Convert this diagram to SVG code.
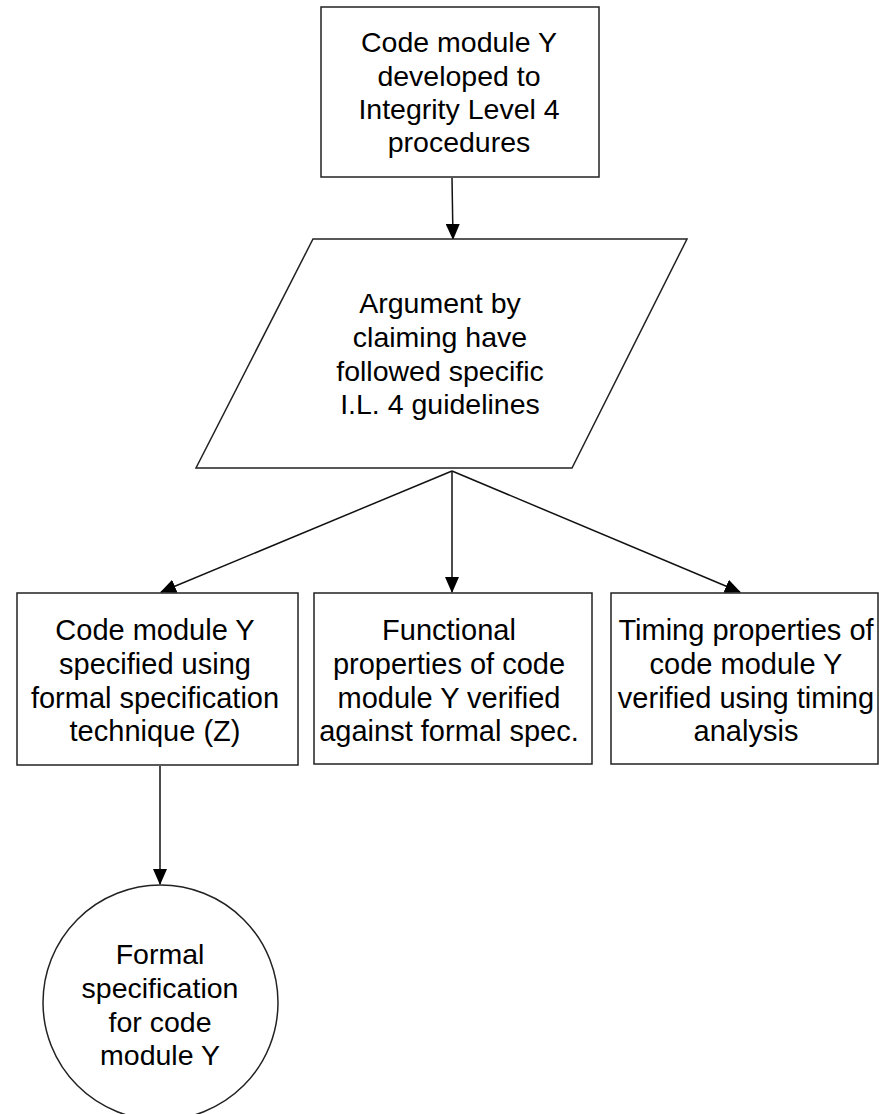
<svg xmlns="http://www.w3.org/2000/svg" width="879" height="1114" viewBox="0 0 879 1114">
  <style>
    .shape { fill: #ffffff; stroke: #222222; stroke-width: 1.5; }
    .label { font-family: "Liberation Sans", Arial, sans-serif; font-size: 28.5px; fill: #000000; text-anchor: middle; }
    .label-lg { font-size: 29px; }
    .conn { stroke: #111111; stroke-width: 1.5; fill: none; marker-end: url(#arrow); }
  </style>
  <defs>
    <marker id="arrow" viewBox="0 0 16 14" refX="15" refY="7" markerWidth="16" markerHeight="14" markerUnits="userSpaceOnUse" orient="auto">
      <path d="M0,0 L16,7 L0,14 Z" fill="#000000"/>
    </marker>
  </defs>
  <rect width="879" height="1114" fill="#ffffff"/>

  <g id="connectors">
    <line class="conn" x1="452" y1="178" x2="453" y2="239"/>
    <line class="conn" x1="452" y1="471" x2="161" y2="592"/>
    <line class="conn" x1="452" y1="471" x2="452" y2="592"/>
    <line class="conn" x1="452" y1="471" x2="740" y2="592"/>
    <line class="conn" x1="160" y1="766" x2="160" y2="884"/>
  </g>

  <g id="node-developed">
    <rect class="shape" x="321" y="7" width="278" height="170"/>
    <text class="label" x="459" y="52">Code module Y</text>
    <text class="label" x="459" y="86">developed to</text>
    <text class="label" x="459" y="119">Integrity Level 4</text>
    <text class="label" x="459" y="152">procedures</text>
  </g>

  <g id="node-argument">
    <polygon class="shape" points="313,239 687,239 572,468 196,468"/>
    <text class="label" x="440" y="313">Argument by</text>
    <text class="label" x="440" y="347">claiming have</text>
    <text class="label" x="440" y="381">followed specific</text>
    <text class="label" x="440" y="414">I.L. 4 guidelines</text>
  </g>

  <g id="node-specified">
    <rect class="shape" x="17" y="593" width="281" height="172"/>
    <text class="label label-lg" x="155" y="640">Code module Y</text>
    <text class="label label-lg" x="155" y="674">specified using</text>
    <text class="label label-lg" x="155" y="708">formal specification</text>
    <text class="label label-lg" x="155" y="741">technique (Z)</text>
  </g>

  <g id="node-functional">
    <rect class="shape" x="314" y="593" width="278" height="171"/>
    <text class="label label-lg" x="449" y="640">Functional</text>
    <text class="label label-lg" x="449" y="674">properties of code</text>
    <text class="label label-lg" x="449" y="708">module Y verified</text>
    <text class="label label-lg" x="449" y="741">against formal spec.</text>
  </g>

  <g id="node-timing">
    <rect class="shape" x="611" y="593" width="267" height="171"/>
    <text class="label label-lg" x="746" y="640">Timing properties of</text>
    <text class="label label-lg" x="746" y="674">code module Y</text>
    <text class="label label-lg" x="746" y="708">verified using timing</text>
    <text class="label label-lg" x="746" y="741">analysis</text>
  </g>

  <g id="node-formal-spec">
    <circle class="shape" cx="160.5" cy="1002.5" r="117.5"/>
    <text class="label" x="160" y="964">Formal</text>
    <text class="label" x="160" y="998">specification</text>
    <text class="label" x="160" y="1032">for code</text>
    <text class="label" x="160" y="1065">module Y</text>
  </g>
</svg>
